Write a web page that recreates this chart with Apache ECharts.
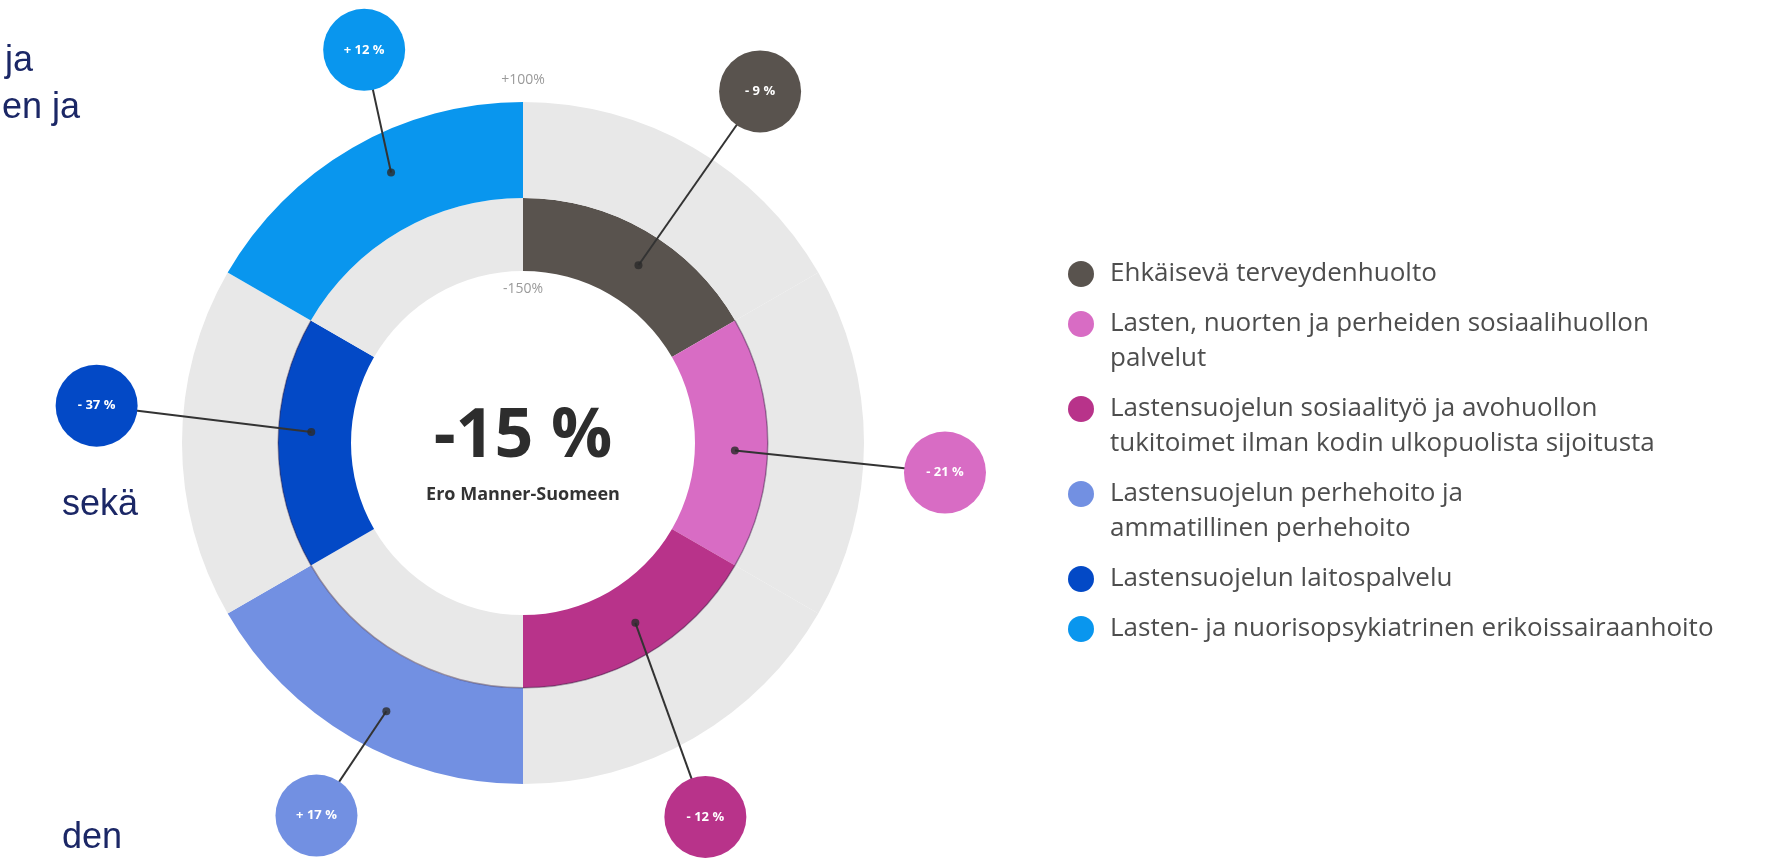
<!DOCTYPE html>
<html>
<head>
<meta charset="utf-8">
<script src="https://cdn.jsdelivr.net/npm/echarts@6/dist/echarts.min.js"></script>
<style>
  html, body { margin: 0; padding: 0; background: #fff; }
  #chart { width: 1770px; height: 867px; }
</style>
</head>
<body>
<div id="chart"></div>
<script>
// Sectors, clockwise from 12 o'clock
const categories = [
  'Ehkäisevä terveydenhuolto',
  'Lasten, nuorten ja perheiden sosiaalihuollon palvelut',
  'Lastensuojelun sosiaalityö ja avohuollon tukitoimet ilman kodin ulkopuolista sijoitusta',
  'Lastensuojelun perhehoito ja ammatillinen perhehoito',
  'Lastensuojelun laitospalvelu',
  'Lasten- ja nuorisopsykiatrinen erikoissairaanhoito',
]
// legend text, wrapped the way the picture wraps it
const legendLines = [
  ['Ehkäisevä terveydenhuolto'],
  ['Lasten, nuorten ja perheiden sosiaalihuollon', 'palvelut'],
  ['Lastensuojelun sosiaalityö ja avohuollon', 'tukitoimet ilman kodin ulkopuolista sijoitusta'],
  ['Lastensuojelun perhehoito ja', 'ammatillinen perhehoito'],
  ['Lastensuojelun laitospalvelu'],
  ['Lasten- ja nuorisopsykiatrinen erikoissairaanhoito'],
]
// difference to mainland Finland (%)
const diffValues = [-9, -21, -12, 17, -37, 12]
// every sector gets the same slice of the circle
const sectorShares = [1, 1, 1, 1, 1, 1]
const totalDiff = -15
const totalLabel = 'Ero Manner-Suomeen'
const scaleLabels = ['+100%', '-150%']
// cut-off text from the neighbouring slide
const sideText = ['ja', 'en ja', 'sekä', 'den']

const COLORS = ['#59534e', '#d86cc4', '#b8338a', '#7290e2', '#0349c6', '#0996ee']
const TRACK = '#e8e8e8'
// faint shadow on the middle boundary, only on the lower/right part
const EDGE_SHADE = [false, true, true, true, true, false]
const FONT = '"Open Sans", "Noto Sans", sans-serif'

// layout (px)
const CX = 523
const CY = 443
const R_IN = 172
const R_MID = 245
const R_OUT = 341
const BUBBLE_SIZE = 82
// callouts are hand placed in the picture: small nudges off the sector middle
const BUBBLE_DIST = [424, 423, 416, 426, 428, 424]
const BUBBLE_NUDGE = [-4, -4, -4, 1, -5, -8]
const DOT_NUDGE = [-3, -2, 2, 3, -3, -4]
const DOT_R_IN = 212
const DOT_R_OUT = 301

const W = 1770
const H = 867

const totalShare = sectorShares.reduce((a, b) => a + b, 0)
const midAngles = []
let acc = 0
sectorShares.forEach((s) => {
  midAngles.push(90 - 360 * (acc + s / 2) / totalShare)
  acc += s
})

const polar = (r, deg) => {
  const a = deg * Math.PI / 180
  return [r * Math.cos(a), r * Math.sin(a)]
}

const fmtDiff = (v) => `${v > 0 ? '+' : '-'} ${Math.abs(v)} %`

const ringData = (positive) => categories.map((name, i) => ({
  name,
  value: sectorShares[i],
  itemStyle: { color: (diffValues[i] > 0) === positive ? COLORS[i] : TRACK },
}))

const edgeData = categories.map((name, i) => ({
  name,
  value: sectorShares[i],
  itemStyle: { color: EDGE_SHADE[i] ? 'rgba(60,40,70,0.45)' : 'rgba(0,0,0,0)' },
}))

const dotPoints = diffValues.map((v, i) => polar(v > 0 ? DOT_R_OUT : DOT_R_IN, midAngles[i] + DOT_NUDGE[i]))
const bubblePoints = diffValues.map((v, i) => {
  const p = polar(BUBBLE_DIST[i], midAngles[i] + BUBBLE_NUDGE[i])
  return { value: [p[0], p[1], v], itemStyle: { color: COLORS[i] } }
})
const calloutLines = dotPoints.map((d, i) => ({ coords: [d, bubblePoints[i].value.slice(0, 2)] }))

// legend drawn as graphic: icon sits on the first line of wrapped items
const LEGEND_X = 1081
const LEGEND_TOP = 274
const LEGEND_LINE = 35
const LEGEND_GAP = 15
const legendGraphics = []
let ly = LEGEND_TOP
legendLines.forEach((lines, i) => {
  legendGraphics.push({
    type: 'circle',
    shape: { cx: LEGEND_X, cy: ly, r: 13 },
    style: { fill: COLORS[i] },
  })
  lines.forEach((t, k) => {
    legendGraphics.push({
      type: 'text',
      x: LEGEND_X + 29,
      y: ly + k * LEGEND_LINE,
      style: { text: t, fontSize: 26, fontFamily: FONT, fill: '#4d4d4d', verticalAlign: 'middle' },
    })
  })
  ly += lines.length * LEGEND_LINE + LEGEND_GAP
})

const sideStyle = { fontSize: 36, fontFamily: '"Liberation Sans", Arial, sans-serif', fill: '#1b2766', verticalAlign: 'middle' }
const sideGraphics = [
  { type: 'text', x: 33, y: 61, style: { ...sideStyle, text: sideText[0], align: 'right' } },
  { type: 'text', x: 80, y: 108, style: { ...sideStyle, text: sideText[1], align: 'right' } },
  { type: 'text', x: 62, y: 505, style: { ...sideStyle, text: sideText[2], align: 'left' } },
  { type: 'text', x: 62, y: 838, style: { ...sideStyle, text: sideText[3], align: 'left' } },
]

const chart = echarts.init(document.getElementById('chart'))

const ringSeries = (radius, data, z) => ({
  type: 'pie',
  z,
  center: [CX, CY],
  radius,
  startAngle: 90,
  clockwise: true,
  silent: true,
  animation: false,
  label: { show: false },
  labelLine: { show: false },
  emphasis: { disabled: true },
  itemStyle: { borderWidth: 0 },
  data,
})

chart.setOption({
  animation: false,
  backgroundColor: '#fff',
  grid: { left: 0, top: 0, width: W, height: H },
  xAxis: { type: 'value', min: -CX, max: W - CX, show: false },
  yAxis: { type: 'value', min: -(H - CY), max: CY, show: false },
  series: [
    ringSeries([R_IN, R_MID], ringData(false), 2),
    ringSeries([R_MID, R_OUT], ringData(true), 2),
    ringSeries([R_MID - 1, R_MID + 0.5], edgeData, 3),
    {
      type: 'lines',
      coordinateSystem: 'cartesian2d',
      z: 4,
      silent: true,
      lineStyle: { color: '#333', width: 2, opacity: 1 },
      data: calloutLines,
    },
    {
      type: 'scatter',
      z: 5,
      silent: true,
      symbolSize: 8,
      itemStyle: { color: '#2a2a2a' },
      data: dotPoints,
    },
    {
      type: 'scatter',
      z: 6,
      silent: true,
      symbolSize: BUBBLE_SIZE,
      label: {
        show: true,
        position: 'inside',
        formatter: (p) => fmtDiff(p.value[2]),
        color: '#fff',
        fontSize: 13,
        fontWeight: 'bold',
        fontFamily: FONT,
      },
      itemStyle: { opacity: 1 },
      data: bubblePoints,
    },
  ],
  graphic: [
    {
      type: 'text', x: CX, y: 438, z: 10,
      style: { text: `${totalDiff} %`, fontSize: 68, fontWeight: 'bold', fontFamily: FONT, fill: '#2d2d2d', align: 'center', verticalAlign: 'middle' },
    },
    {
      type: 'text', x: CX, y: 495, z: 10,
      style: { text: totalLabel, fontSize: 18, fontWeight: 'bold', fontFamily: FONT, fill: '#333', align: 'center', verticalAlign: 'middle' },
    },
    {
      type: 'text', x: CX, y: 80, z: 10,
      style: { text: scaleLabels[0], fontSize: 14, fontFamily: FONT, fill: '#9a9a9a', align: 'center', verticalAlign: 'middle' },
    },
    {
      type: 'text', x: CX, y: 289, z: 10,
      style: { text: scaleLabels[1], fontSize: 14, fontFamily: FONT, fill: '#9a9a9a', align: 'center', verticalAlign: 'middle' },
    },
    ...legendGraphics,
    ...sideGraphics,
  ],
})
</script>
</body>
</html>
